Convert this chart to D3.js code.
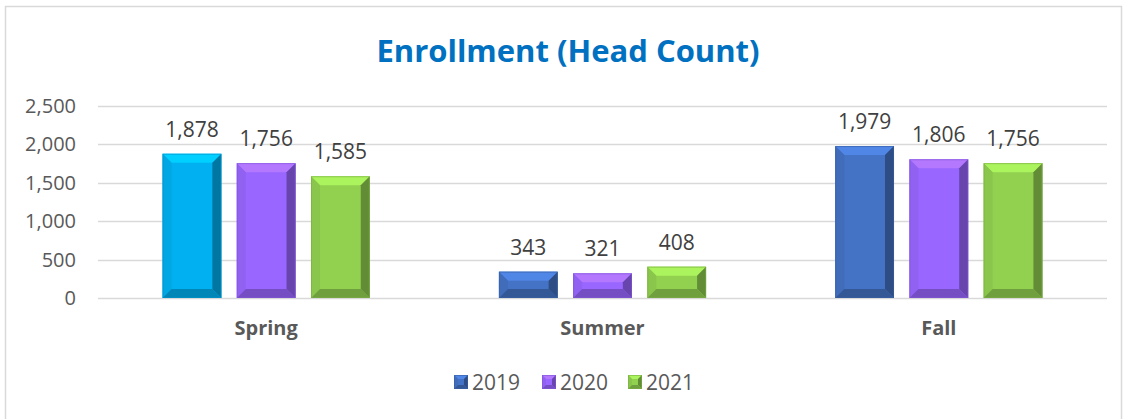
<!DOCTYPE html>
<html>
<head>
<meta charset="utf-8">
<script src="https://cdn.jsdelivr.net/npm/d3@7"></script>
<style>
  body { margin: 0; background: #fff; }
  svg { font-family: "Open Sans", "Noto Sans", sans-serif; }
</style>
</head>
<body>
<div id="chart"></div>
<script>
// chart data
var seasons = ["Spring", "Summer", "Fall"];
var years = ["2019", "2020", "2021"];
var spring = [1878, 1756, 1585];
var summer = [343, 321, 408];
var fall = [1979, 1806, 1756];
var yTicks = [0, 500, 1000, 1500, 2000, 2500];

var width = 1128, height = 419;
var margin = {top: 106, right: 21, bottom: 121, left: 98};
var font = "'Open Sans', 'Noto Sans', sans-serif";

var values = [spring, summer, fall];
var rows = [];
seasons.forEach(function (s, i) {
    years.forEach(function (y, j) {
        rows.push({season: s, year: y, value: values[i][j]});
    });
});

// colours per year, spring 2019 bar is cyan in the original
var colors = {"2019": "#4472c4", "2020": "#9966ff", "2021": "#92d050"};
function barColor(d) {
    if (d.season == "Spring" && d.year == "2019") return "#00b0f0";
    return colors[d.year];
}

var svg = d3.select("#chart").append("svg")
    .attr("width", width)
    .attr("height", height);

// outer chart border
svg.append("rect")
    .attr("x", 5.5).attr("y", 6.5)
    .attr("width", 1116).attr("height", 420)
    .attr("fill", "none")
    .attr("stroke", "#d9d9d9")
    .attr("stroke-width", 1.5);

svg.append("text")
    .attr("x", 568).attr("y", 62)
    .attr("text-anchor", "middle")
    .attr("fill", "#0070c0")
    .attr("font-weight", "bold")
    .attr("font-size", 31)
    .text("Enrollment (Head Count)");

var x0 = d3.scaleBand()
    .domain(seasons)
    .range([margin.left, width - margin.right])
    .paddingInner(0.384)
    .paddingOuter(0.192);

var x1 = d3.scaleBand()
    .domain(years)
    .range([0, x0.bandwidth()])
    .paddingInner(0.208);

var y = d3.scaleLinear()
    .domain([0, 2500])
    .range([height - margin.bottom, margin.top]);

// gridlines
svg.append("g").selectAll("line")
    .data(yTicks)
    .enter().append("line")
    .attr("x1", margin.left)
    .attr("x2", width - margin.right)
    .attr("y1", function (d) { return Math.round(y(d)) + 0.5; })
    .attr("y2", function (d) { return Math.round(y(d)) + 0.5; })
    .attr("stroke", "#d9d9d9")
    .attr("stroke-width", 1.3);

var yAxis = svg.append("g")
    .attr("transform", "translate(" + margin.left + ",0)")
    .call(d3.axisLeft(y).tickValues(yTicks).tickFormat(d3.format(",")).tickSize(0).tickPadding(22));
yAxis.select(".domain").remove();
yAxis.selectAll("text")
    .attr("font-family", font)
    .attr("font-size", 20)
    .attr("fill", "#595959");

var xAxis = svg.append("g")
    .attr("transform", "translate(0," + (height - margin.bottom) + ")")
    .call(d3.axisBottom(x0).tickSize(0).tickPadding(23));
xAxis.select(".domain").remove();
xAxis.selectAll("text")
    .attr("font-family", font)
    .attr("font-size", 20)
    .attr("font-weight", "bold")
    .attr("fill", "#595959");

// bevelled bar: centre face plus four sloped edges
function bevel(g, x, yTop, w, h, c, b) {
    b = Math.min(b, h / 2.2, w / 2.2);
    var base = d3.color(c);
    var x2 = x + w, y2 = yTop + h;
    var faces = [
        {pts: [[x, yTop], [x2, yTop], [x2 - b, yTop + b], [x + b, yTop + b]], col: base.brighter(0.45)},
        {pts: [[x, yTop], [x + b, yTop + b], [x + b, y2 - b], [x, y2]], col: base.darker(0.15)},
        {pts: [[x2, yTop], [x2, y2], [x2 - b, y2 - b], [x2 - b, yTop + b]], col: base.darker(1.1)},
        {pts: [[x, y2], [x + b, y2 - b], [x2 - b, y2 - b], [x2, y2]], col: base.darker(0.75)}
    ];
    g.append("rect")
        .attr("x", x).attr("y", yTop).attr("width", w).attr("height", h)
        .attr("fill", c);
    faces.forEach(function (f) {
        g.append("polygon")
            .attr("points", f.pts.map(function (p) { return p.join(","); }).join(" "))
            .attr("fill", f.col);
    });
    g.append("rect")
        .attr("x", x + 0.5).attr("y", yTop + 0.5).attr("width", w - 1).attr("height", h - 1)
        .attr("fill", "none")
        .attr("stroke", base.darker(0.5))
        .attr("stroke-opacity", 0.6);
}

var bars = svg.append("g");
rows.forEach(function (d) {
    var bx = x0(d.season) + x1(d.year);
    var by = y(d.value);
    bevel(bars, bx, by, x1.bandwidth(), y(0) - by, barColor(d), 9);
});

// value labels
svg.append("g").selectAll("text")
    .data(rows)
    .enter().append("text")
    .attr("x", function (d) { return x0(d.season) + x1(d.year) + x1.bandwidth() / 2; })
    .attr("y", function (d) { return y(d.value) - 17; })
    .attr("text-anchor", "middle")
    .attr("font-size", 21)
    .attr("fill", "#404040")
    .text(function (d) { return d3.format(",")(d.value); });

// legend
var legendX = [454, 542, 628];
var legend = svg.append("g");
years.forEach(function (yr, i) {
    var g = legend.append("g");
    bevel(g, legendX[i], 375, 14, 14, colors[yr], 4);
    legend.append("text")
        .attr("x", legendX[i] + 18)
        .attr("y", 390)
        .attr("font-size", 21)
        .attr("fill", "#595959")
        .text(yr);
});
</script>
</body>
</html>
